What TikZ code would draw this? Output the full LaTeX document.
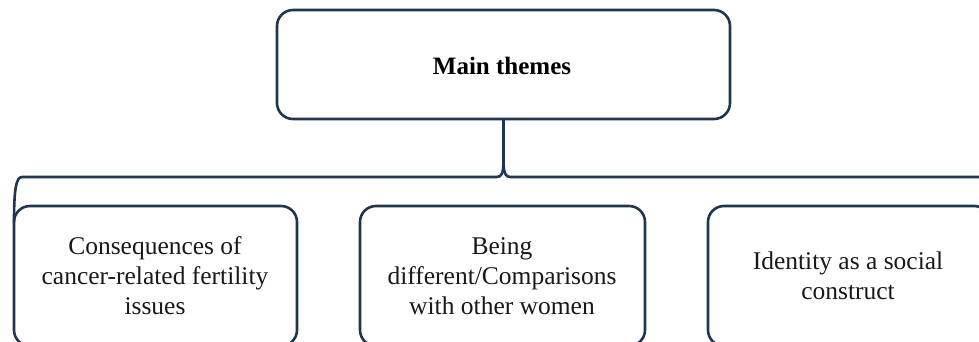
\documentclass[tikz,border=0pt]{standalone}
\usepackage{fontspec}
\setmainfont{Liberation Serif}
\begin{document}
\begin{tikzpicture}[x=1pt,y=-1pt,
  line width=2.6pt,
  every node/.style={inner sep=0pt, outer sep=0pt},
  themebox/.style={draw=navy, rounded corners=16pt, fill=white},
  label/.style={align=center, font=\fontsize{25.5}{30}\selectfont, text=black!90}]
\definecolor{navy}{HTML}{1F3550}
\useasboundingbox (0,0) rectangle (979,342);
\clip (0,0) rectangle (979,342);
\fill[white] (0,0) rectangle (979,342);

% top box
\node[themebox, minimum width=453pt, minimum height=109pt] (main) at (503.5,64.5) {};
\node[font=\fontsize{25}{28}\selectfont\bfseries] (maintxt) at (502,66) {Main themes};

% child boxes (run past the lower and right edges)
\node[themebox, minimum width=283pt, minimum height=140pt] (c1) at (155.5,276) {};
\node[themebox, minimum width=285pt, minimum height=140pt] (c2) at (502.5,276) {};
\node[themebox, minimum width=282pt, minimum height=140pt] (c3) at (849,276) {};

\node[label] (t1) at (155,276) {Consequences of\\cancer-related fertility\\issues};
\node[label] (t2) at (502,276) {Being\\different/Comparisons\\with other women};
\node[label] (t3) at (848,276) {Identity as a social\\construct};

% brace joining the themes
\coordinate (cusp) at ([yshift=-41pt]main.south);
\coordinate (bl) at (22,177);
\coordinate (br) at (995,177);
\draw[navy, line join=round]
  (main.south) -- (cusp)
  .. controls ([yshift=-14pt]cusp) and ([xshift=-2pt,yshift=-17pt]cusp) .. ([xshift=-7pt,yshift=-17pt]cusp)
  -- (bl |- 0,177) .. controls (16,177) and (14,190) .. (c1.north west |- 0,222);
\draw[navy, line join=round]
  (cusp) .. controls ([yshift=-14pt]cusp) and ([xshift=2pt,yshift=-17pt]cusp) .. ([xshift=7pt,yshift=-17pt]cusp)
  -- (br);
\end{tikzpicture}
\end{document}
